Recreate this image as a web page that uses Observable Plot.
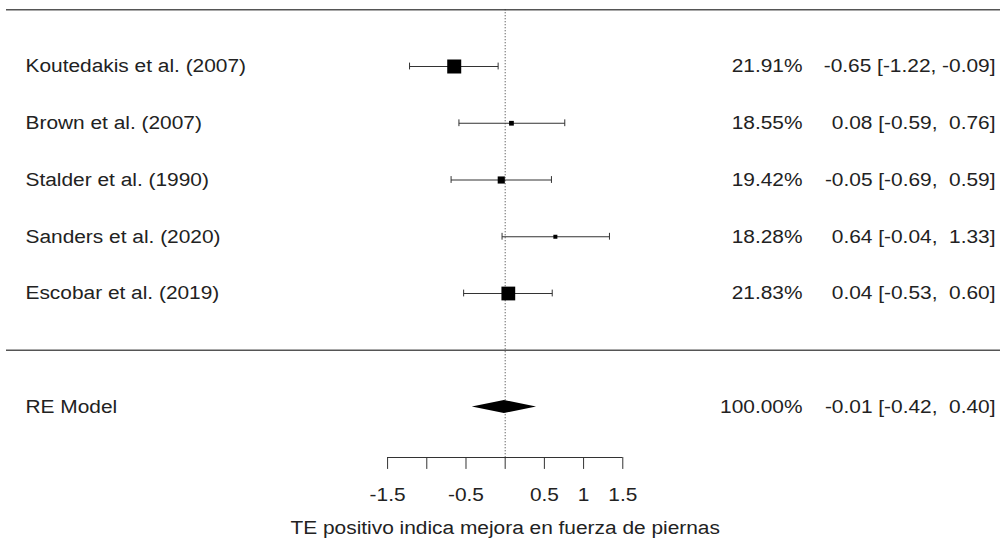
<!DOCTYPE html>
<html><head><meta charset="utf-8">
<script src="https://cdn.jsdelivr.net/npm/d3@7"></script>
<script src="https://cdn.jsdelivr.net/npm/@observablehq/plot@0.6"></script>
<style>body{margin:0;background:#fff} svg text{font-family:"Liberation Sans",Arial,sans-serif}</style>
</head><body><div id="chart"></div><script>
const studies = ["Koutedakis et al. (2007)", "Brown et al. (2007)", "Stalder et al. (1990)", "Sanders et al. (2020)", "Escobar et al. (2019)"];
const weights = [21.91, 18.55, 19.42, 18.28, 21.83];
const estimates = [-0.65, 0.08, -0.05, 0.64, 0.04];
const lowers = [-1.22, -0.59, -0.69, -0.04, -0.53];
const uppers = [-0.09, 0.76, 0.59, 1.33, 0.60];
const modelLabel = "RE Model";
const modelWeight = 100.00;
const modelEst = -0.01, modelLo = -0.42, modelHi = 0.40;
const xTicks = [-1.5, -1, -0.5, 0, 0.5, 1, 1.5];
const xTickLabels = [-1.5, -0.5, 0.5, 1, 1.5];
const xTitle = "TE positivo indica mejora en fuerza de piernas";

const k = studies.length;
const rows = studies.map((s, i) => ({label: s, row: k - i, est: estimates[i], lo: lowers[i], hi: uppers[i], w: weights[i]}));
const model = {label: modelLabel, row: -1, est: modelEst, lo: modelLo, hi: modelHi, w: modelWeight};
const all = [...rows, model];

const pad = v => (v < 0 ? "" : "\u00a0") + v.toFixed(2);
const ciText = d => `${pad(d.est)} [${pad(d.lo)}, ${pad(d.hi)}]`;
const wText = d => `${d.w.toFixed(2)}%`;

const axisRow = -1.89, tickEnd = -2.1, labelRow = -2.56, titleRow = -3.13, capH = 0.06, diamH = 0.115;
const diamond = [
  {x: model.lo, y1: model.row, y2: model.row},
  {x: model.est, y1: model.row - diamH, y2: model.row + diamH},
  {x: model.hi, y1: model.row, y2: model.row}
];
const caps = rows.flatMap(d => [{x: d.lo, row: d.row}, {x: d.hi, row: d.row}]);

const plot = Plot.plot({
  width: 1000, height: 546,
  marginLeft: 6, marginRight: 0, marginTop: 0, marginBottom: 0,
  x: {domain: [-6.361, 6.318], axis: null},
  y: {domain: [-3.458, 6.163], axis: null},
  r: {type: "linear", domain: d3.extent(weights), range: [2.26, 7.9]},
  style: {fontFamily: "Liberation Sans, Arial, sans-serif", fontSize: "18px", background: "white", color: "black"},
  marks: [
    Plot.ruleY([k + 1, 0], {stroke: "#555", strokeWidth: 1.5}),
    Plot.ruleX([0], {y1: k + 1, y2: axisRow, stroke: "#333", strokeDasharray: "1,2"}),
    Plot.link(rows, {x1: "lo", x2: "hi", y1: "row", y2: "row", stroke: "#333"}),
    Plot.ruleX(caps, {x: "x", y1: d => d.row - capH, y2: d => d.row + capH, stroke: "#333"}),
    Plot.dot(rows, {x: "est", y: "row", r: "w", symbol: "square", fill: "black", stroke: "none"}),
    Plot.areaY(diamond, {x: "x", y1: "y1", y2: "y2", fill: "black"}),
    Plot.ruleY([axisRow], {x1: xTicks[0], x2: xTicks[xTicks.length - 1], stroke: "#333"}),
    Plot.ruleX(xTicks, {y1: axisRow, y2: tickEnd, stroke: "#333"}),
    Plot.text(xTickLabels, {x: d => d, y: labelRow, text: d => String(d), fill: "#222"}),
    Plot.text([xTitle], {x: 0, y: titleRow, text: d => d, fill: "#222"}),
    Plot.text(all, {y: "row", text: "label", frameAnchor: "left", dx: 19, textAnchor: "start", fill: "#222"}),
    Plot.text(all, {y: "row", text: wText, frameAnchor: "right", dx: -198, textAnchor: "end", fill: "#222"}),
    Plot.text(all, {y: "row", text: ciText, frameAnchor: "right", dx: -5, textAnchor: "end", fill: "#222"})
  ]
});
document.getElementById("chart").append(plot);
plot.querySelectorAll("text").forEach(t => {
  const L = t.getComputedTextLength();
  t.setAttribute("textLength", (L * 1.16).toFixed(1));
  t.setAttribute("lengthAdjust", "spacingAndGlyphs");
});
</script></body></html>
